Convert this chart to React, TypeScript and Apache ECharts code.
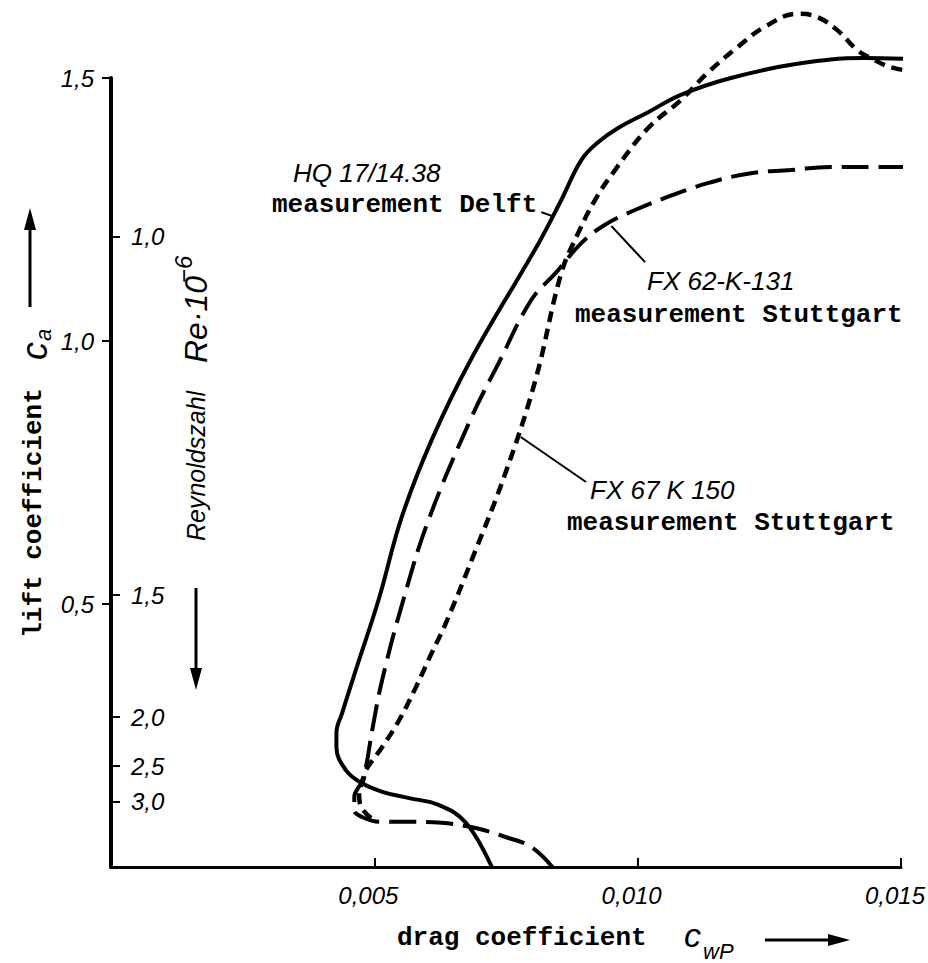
import React, { useEffect, useRef } from 'react';
import * as echarts from 'echarts';

// Axis ticks (drag coefficient c_wP, lift coefficient c_a)
const xTicks = [0.005, 0.01, 0.015];
const xTickLabels = ['0,005', '0,010', '0,015'];
const yTicks = [0.5, 1.0, 1.5];
const yTickLabels = ['0,5', '1,0', '1,5'];
// Reynolds number scale (Re·10^-6) placed at lift-coefficient positions
const reTickCa = [1.198, 0.517, 0.285, 0.192, 0.125];
const reTickLabels = ['1,0', '1,5', '2,0', '2,5', '3,0'];

// HQ 17/14.38, measurement Delft (solid)
const hqCd = [0.00723, 0.00674, 0.00622, 0.00566, 0.00515, 0.00475, 0.00446, 0.00428, 0.00428, 0.00439, 0.00465, 0.00509, 0.00552, 0.00609, 0.00683, 0.00812, 0.00855, 0.00893, 0.00925, 0.00963, 0.0102, 0.01082, 0.01177, 0.01303, 0.0143, 0.01517];
const hqCa = [0, 0.084, 0.118, 0.131, 0.143, 0.16, 0.184, 0.228, 0.255, 0.293, 0.375, 0.511, 0.665, 0.812, 0.964, 1.186, 1.268, 1.344, 1.378, 1.405, 1.435, 1.468, 1.5, 1.527, 1.538, 1.536];

// FX 62-K-131, measurement Stuttgart (long dashes)
const fx62Cd = [0.00838, 0.00798, 0.00749, 0.00692, 0.00628, 0.00566, 0.00509, 0.00477, 0.00462, 0.00462, 0.00475, 0.00484, 0.00496, 0.00515, 0.00556, 0.00603, 0.00685, 0.00736, 0.00798, 0.00844, 0.00893, 0.00938, 0.00995, 0.01052, 0.01133, 0.01215, 0.0129, 0.01366, 0.01442, 0.01515];
const fx62Ca = [0, 0.038, 0.057, 0.074, 0.084, 0.086, 0.086, 0.095, 0.108, 0.133, 0.16, 0.19, 0.26, 0.356, 0.511, 0.66, 0.856, 0.958, 1.078, 1.129, 1.186, 1.221, 1.249, 1.272, 1.3, 1.319, 1.325, 1.331, 1.331, 1.331];

// FX 67 K 150, measurement Stuttgart (short dashes)
const fx67Cd = [0.00494, 0.00475, 0.00471, 0.00479, 0.00484, 0.00515, 0.00547, 0.00579, 0.00609, 0.00636, 0.00685, 0.00749, 0.00806, 0.00855, 0.00887, 0.00919, 0.00957, 0.0102, 0.01082, 0.01133, 0.0119, 0.01241, 0.01303, 0.01341, 0.01379, 0.01417, 0.01442, 0.01479, 0.01517];
const fx67Ca = [0.093, 0.114, 0.141, 0.165, 0.184, 0.228, 0.279, 0.342, 0.407, 0.464, 0.584, 0.749, 0.926, 1.129, 1.205, 1.268, 1.325, 1.405, 1.458, 1.51, 1.559, 1.597, 1.622, 1.616, 1.591, 1.553, 1.538, 1.521, 1.513];

// Annotation pointer lines (data coordinates)
const hqPointer = [[0.00817, 1.245], [0.00836, 1.238]];
const fx62Pointer = [[0.0095, 1.2186], [0.01014, 1.15]];
const fx67Pointer = [[0.00778, 0.8175], [0.00902, 0.732]];

const pairs = (xs: number[], ys: number[]) => xs.map((x, i) => [x, ys[i]]);
const labelFor = (v: number, vals: number[], labels: string[]) => {
  let best = -1;
  let bd = Infinity;
  vals.forEach((t, i) => {
    const d = Math.abs(t - v);
    if (d < bd) { bd = d; best = i; }
  });
  return bd < 1e-6 ? labels[best] : '';
};

const SANS = '"Liberation Sans", Arial, sans-serif';
const MONO = '"Liberation Mono", "Courier New", monospace';

export default function App() {
  const ref = useRef<HTMLDivElement>(null);
  useEffect(() => {
    if (!ref.current) return;
    const chart = echarts.init(ref.current, null, { renderer: 'svg' });
    const pointer = (p: number[][]) => ({
      silent: true,
      symbol: ['none', 'none'],
      lineStyle: { color: '#000', width: 2, type: 'solid' },
      label: { show: false },
      emphasis: { disabled: true },
      data: [[{ coord: p[0] }, { coord: p[1] }]],
    });
    const txt = (text: string, x: number, y: number, font: string, align = 'left') => ({
      type: 'text', x, y, silent: true,
      style: { text, font, fill: '#000', align, verticalAlign: 'middle' },
    });
    chart.setOption({
      animation: false,
      backgroundColor: '#fff',
      grid: { left: 111, right: 24, top: 78, bottom: 96 },
      xAxis: {
        type: 'value', min: 0, max: 0.015, interval: 0.005,
        axisLine: { lineStyle: { color: '#000', width: 3 } },
        axisTick: { inside: true, length: 9, customValues: xTicks, lineStyle: { color: '#000', width: 2 } },
        axisLabel: {
          customValues: xTicks,
          formatter: (v: number) => labelFor(v, xTicks, xTickLabels),
          color: '#000', fontFamily: SANS, fontStyle: 'italic', fontSize: 24, margin: 16,
          padding: [0, 12, 0, 0],
        },
        splitLine: { show: false },
      },
      yAxis: [
        {
          type: 'value', min: 0, max: 1.5, interval: 0.5,
          axisLine: { show: true, lineStyle: { color: '#000', width: 4 } },
          axisTick: { show: true, length: 9, customValues: yTicks, lineStyle: { color: '#000', width: 2 } },
          axisLabel: {
            customValues: yTicks,
            formatter: (v: number) => labelFor(v, yTicks, yTickLabels),
            color: '#000', fontFamily: SANS, fontStyle: 'italic', fontSize: 24, margin: 17,
          },
          splitLine: { show: false },
        },
        {
          type: 'value', min: 0, max: 1.5, position: 'left', offset: 0,
          axisLine: { show: false },
          axisTick: { show: true, inside: true, length: 9, customValues: reTickCa, lineStyle: { color: '#000', width: 2 } },
          axisLabel: {
            inside: true,
            customValues: reTickCa,
            formatter: (v: number) => labelFor(v, reTickCa, reTickLabels),
            color: '#000', fontFamily: SANS, fontStyle: 'italic', fontSize: 24, margin: 20,
          },
          splitLine: { show: false },
        },
      ],
      series: [
        {
          name: 'HQ 17/14.38', type: 'line', data: pairs(hqCd, hqCa),
          showSymbol: false, symbol: 'none', smooth: 0.4, clip: false,
          lineStyle: { color: '#000', width: 4 },
          markLine: pointer(hqPointer),
        },
        {
          name: 'FX 62-K-131', type: 'line', data: pairs(fx62Cd, fx62Ca),
          showSymbol: false, symbol: 'none', smooth: 0.4, clip: false,
          lineStyle: { color: '#000', width: 4, type: [27, 10] },
          markLine: pointer(fx62Pointer),
        },
        {
          name: 'FX 67 K 150', type: 'line', data: pairs(fx67Cd, fx67Ca),
          showSymbol: false, symbol: 'none', smooth: 0.4, clip: false,
          lineStyle: { color: '#000', width: 4.5, type: [11, 7] },
          markLine: pointer(fx67Pointer),
        },
      ],
      graphic: [
        txt('HQ 17/14.38', 293, 173, `italic 26px ${SANS}`),
        txt('measurement Delft', 272, 205, `bold 26px ${MONO}`),
        txt('FX 62-K-131', 647, 281, `italic 26px ${SANS}`),
        txt('measurement Stuttgart', 575, 315, `bold 26px ${MONO}`),
        txt('FX 67 K 150', 590, 490, `italic 26px ${SANS}`),
        txt('measurement Stuttgart', 567, 523, `bold 26px ${MONO}`),
        txt('drag coefficient', 397, 938, `bold 26px ${MONO}`),
        txt('c', 684, 935, `italic 34px ${SANS}`),
        txt('wP', 703, 951, `italic 22px ${SANS}`),
        { type: 'line', silent: true, shape: { x1: 765, y1: 940, x2: 832, y2: 940 }, style: { stroke: '#000', lineWidth: 3 } },
        { type: 'polygon', silent: true, shape: { points: [[828, 934], [850, 940], [828, 946]] }, style: { fill: '#000' } },
        {
          type: 'group', x: 34, y: 513, rotation: Math.PI / 2, silent: true,
          children: [
            txt('lift coefficient', 0, 0, `bold 26px ${MONO}`, 'center'),
            txt('c', 153, 0, `italic 36px ${SANS}`),
            txt('a', 172, 9, `italic 22px ${SANS}`),
          ],
        },
        { type: 'line', silent: true, shape: { x1: 30, y1: 307, x2: 30, y2: 226 }, style: { stroke: '#000', lineWidth: 3 } },
        { type: 'polygon', silent: true, shape: { points: [[24, 230], [30, 208], [36, 230]] }, style: { fill: '#000' } },
        {
          type: 'group', x: 196, y: 541, rotation: Math.PI / 2, silent: true,
          children: [
            txt('Reynoldszahl', 0, 0, `italic 25px ${SANS}`),
            txt('Re·10', 178, 0, `italic 32px ${SANS}`),
            txt('−6', 258, -13, `italic 24px ${SANS}`),
          ],
        },
        { type: 'line', silent: true, shape: { x1: 196, y1: 588, x2: 196, y2: 672 }, style: { stroke: '#000', lineWidth: 3 } },
        { type: 'polygon', silent: true, shape: { points: [[190, 668], [196, 690], [202, 668]] }, style: { fill: '#000' } },
      ],
    });
    return () => chart.dispose();
  }, []);
  return <div ref={ref} style={{ position: 'fixed', left: 0, top: 0, width: 928, height: 963 }} />;
}
